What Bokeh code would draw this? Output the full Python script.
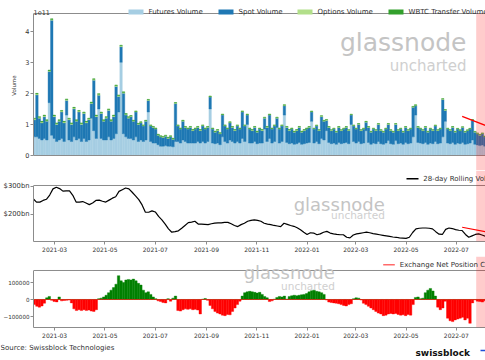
import pandas as pd
from bokeh.plotting import figure
from bokeh.models import (ColumnDataSource, Range1d, FixedTicker, CustomJSTickFormatter,
                          DatetimeTickFormatter, Label, BoxAnnotation, Span)
from bokeh.layouts import column
from bokeh.embed import file_html
from bokeh.resources import INLINE

# ---------------- data ----------------
bin_start = "2021-02-03"          # 3-day bins
futures_vol = [  # 1e9 USD
    60, 60, 55, 50, 55, 50, 170, 65, 55, 45,
    50, 55, 45, 130, 50, 45, 60, 50, 55, 45,
    55, 45, 50, 120, 80, 55, 150, 55, 50, 50,
    60, 50, 55, 70, 140, 300, 70, 60, 55, 55,
    50, 60, 45, 50, 45, 50, 140, 45, 40, 40,
    35, 30, 30, 32, 30, 30, 28, 45, 45, 40,
    50, 45, 40, 40, 40, 40, 45, 40, 45, 40,
    45, 150, 40, 38, 40, 35, 60, 45, 40, 50,
    45, 40, 45, 40, 55, 45, 100, 40, 40, 45,
    38, 40, 40, 85, 45, 55, 40, 45, 90, 40,
    45, 130, 42, 38, 40, 36, 38, 42, 36, 38,
    40, 42, 110, 40, 45, 38, 55, 50, 80, 42,
    38, 40, 36, 42, 38, 40, 42, 38, 100, 45,
    40, 45, 38, 40, 80, 42, 36, 40, 38, 45,
    38, 36, 40, 48, 38, 36, 48, 38, 40, 36,
    42, 38, 40, 60, 130, 42, 40, 38, 42, 36,
    40, 38, 45, 38, 40, 60, 110, 40, 38, 42,
    36, 40, 38, 42, 36, 38, 40, 50, 36, 34,
    32, 34, 30, 32]
spot_vol = [  # 1e9 USD
    55, 135, 65, 55, 70, 60, 100, 370, 70, 55,
    60, 85, 60, 47, 65, 55, 90, 60, 85, 55,
    80, 60, 65, 47, 162, 70, 44, 80, 60, 70,
    85, 60, 70, 152, 50, 50, 130, 70, 65, 70,
    60, 80, 55, 55, 50, 60, 37, 50, 50, 45,
    30, 30, 28, 30, 25, 30, 24, 122, 50, 45,
    60, 45, 45, 50, 40, 45, 45, 40, 50, 45,
    45, 38, 45, 37, 40, 35, 70, 50, 45, 55,
    45, 40, 50, 45, 85, 50, 30, 45, 40, 45,
    37, 45, 40, 35, 45, 75, 45, 50, 30, 45,
    50, 30, 48, 42, 45, 39, 42, 48, 39, 42,
    45, 48, 30, 45, 50, 42, 70, 60, 33, 48,
    42, 45, 39, 48, 42, 45, 48, 42, 30, 50,
    45, 55, 42, 45, 27, 48, 39, 45, 42, 55,
    42, 39, 45, 52, 42, 39, 52, 42, 45, 39,
    48, 42, 45, 95, 30, 48, 45, 42, 48, 39,
    45, 42, 50, 42, 45, 120, 35, 45, 42, 48,
    39, 45, 42, 48, 39, 42, 45, 63, 39, 36,
    33, 36, 30, 33]
months = ["2021-02", "2021-03", "2021-04", "2021-05", "2021-06", "2021-07", "2021-08",
          "2021-09", "2021-10", "2021-11", "2021-12", "2022-01", "2022-02", "2022-03",
          "2022-04", "2022-05", "2022-06", "2022-07", "2022-08"]
options_month = [3, 3, 3, 3, 2, 2, 2, 2, 2, 2, 2, 2, 2, 2, 2, 2, 2, 1.5, 1.5]
wbtc_month = [2, 2, 2, 2, 1.5, 1.5, 1.5, 1.5, 1.5, 1.5, 1.5, 1, 1, 1, 1, 1, 1, 1, 1]
volume_labels = ["Futures Volume", "Spot Volume", "Options Volume", "WBTC Transfer Volume"]

rolling_start = "2021-02-03"      # 4-day steps, $bn
rolling_vol_bn = [
    255, 243, 243, 249, 253, 268, 290, 296, 291, 282, 283, 283, 267, 243, 243, 245,
    240, 234, 240, 249, 250, 246, 243, 250, 257, 262, 281, 287, 293, 290, 278, 265,
    252, 233, 207, 207, 212, 208, 192, 180, 165, 148, 136, 138, 141, 150, 160, 170,
    172, 175, 165, 165, 164, 163, 166, 168, 169, 169, 171, 171, 166, 160, 156, 163,
    168, 175, 178, 180, 178, 175, 168, 165, 163, 160, 158, 156, 168, 164, 160, 157,
    152, 145, 136, 128, 134, 133, 127, 130, 136, 139, 133, 130, 128, 127, 127, 118,
    116, 126, 130, 132, 134, 136, 134, 131, 129, 127, 125, 123, 121, 119, 118, 116,
    115, 114, 118, 135, 148, 150, 151, 151, 150, 148, 138, 129, 128, 146, 151, 149,
    145, 143, 142, 128, 118, 123, 128, 130, 126, 122, 120]

netpos_start = "2021-02-03"       # 3-day bins, thousands BTC
netpos_k = [
    -30, -40, -45, -38, -22, 10, 18, -5, -12, -14,
    15, -8, -6, -5, -3, -20, -55, -65, -60, -65,
    -60, -65, -62, -68, -70, -60, 5, 8, 15, 25,
    40, 55, 70, 90, 140, 110, 100, 115, 118, 115,
    120, 110, 95, 85, 55, 40, 45, 30, 15, 5,
    -8, -12, -18, -20, 5, -10, 8, 20, -65, -68,
    -60, -55, -58, -55, -60, -58, -62, -85, 2, 6,
    -5, -35, -55, -70, -80, -85, -92, -95, -88, -90,
    -70, -50, -30, -10, 20, 40, 45, 48, 45, 42,
    38, 42, 30, 18, 10, -12, -8, 2, 12, 18,
    15, 20, 2, 18, 22, 25, 22, 25, 28, 30,
    35, 45, 52, 55, 48, 45, 40, 30, -3, -15,
    -18, -20, -22, -25, -30, -35, -38, -30, -25, 5,
    10, 8, -3, -22, -30, -40, -50, -60, -70, -80,
    -85, -95, -92, -85, -82, -85, -82, -88, -92, -90,
    -95, -88, -92, -30, 12, 15, 5, 8, 40, 55,
    65, 50, 20, -45, -60, -50, -10, -110, -125, -130,
    -120, -115, -110, -105, -120, -110, -140, -20, -2, -10,
    -12, -15, -8, -5]

trend_dates = ["2022-07-08", "2022-08-06"]
trend_volume = [126, 96]          # 1e9 USD
trend_rolling_bn = [153.6, 137.5]
highlight_start = "2022-07-25"
tick_labels = ["2021-03", "2021-05", "2021-07", "2021-09", "2021-11",
               "2022-01", "2022-03", "2022-05", "2022-07"]

# ---------------- styling helpers ----------------
FONT = "DejaVu Sans"
SPINE = "#8c8c8c"
TXT = "#333333"
DAY = 86400000
W = 485
FL = 32  # page x of frame left

x_range = Range1d(start=pd.Timestamp("2021-02-03 08:40"), end=pd.Timestamp("2022-08-05 07:00"))
xticks = [pd.Timestamp(t + "-01").value / 1e6 for t in tick_labels]
hl_ms = pd.Timestamp(highlight_start).value / 1e6


def make_fig(h, bottom, yr, bounds):
    """Frame reaches the canvas top; the visible panel box is drawn with spans/bounded axis."""
    p = figure(width=W, height=h, x_axis_type="datetime", x_range=x_range,
               y_range=Range1d(*yr),
               output_backend="svg", toolbar_location=None,
               min_border_left=FL, min_border_right=0,
               min_border_top=0, min_border_bottom=bottom,
               background_fill_color="white", border_fill_color="white")
    p.outline_line_color = None
    p.grid.visible = False
    for ax in (p.xaxis[0], p.yaxis[0]):
        ax.axis_line_color = SPINE
        ax.major_tick_line_color = SPINE
        ax.major_tick_out = 3
        ax.major_tick_in = 0
        ax.minor_tick_line_color = None
        ax.major_label_text_font = FONT
        ax.major_label_text_color = TXT
        ax.major_label_standoff = 1
    p.yaxis.bounds = bounds
    p.xaxis.ticker = FixedTicker(ticks=xticks)
    p.xaxis.formatter = DatetimeTickFormatter(days="%Y-%m", months="%Y-%m", years="%Y-%m")
    p.xaxis.major_label_text_font_size = "6px"
    p.xaxis.major_label_standoff = 2
    p.add_layout(Span(location=bounds[1], dimension="width", line_color=SPINE, line_width=1))
    return p


def label(p, x, y, text, size, color=TXT, align="left", baseline="middle", style="normal"):
    p.add_layout(Label(x=x, y=y, x_units="screen", y_units="screen", text=text,
                       text_align=align, text_baseline=baseline, text_font=FONT,
                       text_font_size=f"{size}px", text_color=color, text_font_style=style))


def box(p, left, right, bottom, top, color, alpha=1.0):
    p.add_layout(BoxAnnotation(left=left, right=right, bottom=bottom, top=top,
                               left_units="screen", right_units="screen",
                               bottom_units="screen", top_units="screen",
                               fill_color=color, fill_alpha=alpha, line_color=None))


def watermark(p, x, y1, y2, s1, s2):
    label(p, x, y1, "glassnode", s1, "#c4c4c4", "right", "alphabetic")
    label(p, x, y2, "uncharted", s2, "#cfcfcf", "right", "alphabetic")


# ---------------- top: volumes (canvas y 0..170, panel box 13..155) ----------------
B1 = 170
p1 = make_fig(170, 0, (-4.827e10, 4.9884e11), (0, 4.57e11))
p1.xaxis.visible = False
p1.add_layout(Span(location=0, dimension="width", line_color=SPINE, line_width=1))
p1.yaxis.ticker = FixedTicker(ticks=[0, 1e11, 2e11, 3e11, 4e11])
p1.yaxis.formatter = CustomJSTickFormatter(code="return (tick/1e11).toFixed(0);")
p1.yaxis.major_label_text_font_size = "6.5px"
p1.yaxis.axis_label = "Volume"
p1.yaxis.axis_label_text_font = FONT
p1.yaxis.axis_label_text_font_size = "5.5px"
p1.yaxis.axis_label_text_font_style = "normal"
p1.yaxis.axis_label_text_color = TXT
p1.yaxis.axis_label_standoff = 5

n = len(futures_vol)
bins = pd.date_range(bin_start, periods=n, freq="3D") + pd.Timedelta(hours=36)
midx = [months.index(d.strftime("%Y-%m")) for d in bins]
src = ColumnDataSource(dict(
    x=bins,
    fut=[v * 1e9 for v in futures_vol],
    spot=[v * 1e9 for v in spot_vol],
    opt=[options_month[m] * 1e9 for m in midx],
    wbtc=[wbtc_month[m] * 1e9 for m in midx],
))
cols = ["#a6cee3", "#1f78b4", "#b2df8a", "#33a02c"]
p1.vbar_stack(["fut", "spot", "opt", "wbtc"], x="x", width=3 * DAY, source=src,
              fill_color=cols, line_color=cols, line_width=0.4)
p1.line(x=pd.to_datetime(trend_dates), y=[v * 1e9 for v in trend_volume],
        line_color="red", line_width=1.2)
p1.add_layout(BoxAnnotation(left=hl_ms, top=4.57e11,
                            fill_color="red", fill_alpha=0.2, line_color=None))
watermark(p1, 465 - FL, B1 - 41.7, B1 - 65, 25, 15)
label(p1, 0, B1 - 11.7, "1e11", 6.5, baseline="alphabetic")
for px, c, t in zip([127, 217, 296, 387], cols, volume_labels):
    box(p1, px - FL, px + 15 - FL, B1 - 14, B1 - 9, c)
    label(p1, px + 20 - FL, B1 - 11.2, t, 7)

# ---------------- middle: rolling volume (canvas 170..256, box 185..241) ----------------
B2 = 241
p2 = make_fig(86, 15, (103, 355.3), (103, 302))
p2.yaxis.ticker = FixedTicker(ticks=[200, 300])
p2.yaxis.formatter = CustomJSTickFormatter(code="return '$' + tick.toFixed(0) + 'bn';")
p2.yaxis.major_label_text_font_size = "6.8px"
rdates = pd.date_range(rolling_start, periods=len(rolling_vol_bn), freq="4D")
p2.line(x=rdates, y=rolling_vol_bn, line_color="black", line_width=1.2)
p2.line(x=pd.to_datetime(trend_dates), y=trend_rolling_bn, line_color="red", line_width=1.2)
p2.add_layout(BoxAnnotation(left=hl_ms, fill_color="red", fill_alpha=0.2, line_color=None))
watermark(p2, 383.3 - FL, B2 - 204.3, B2 - 214.3, 18, 10.5)
box(p2, 405 - FL, 417 - FL, B2 - 179, B2 - 177.6, "black")
label(p2, 421.7 - FL, B2 - 178.3, "28-day Rolling Volume", 7)

# ---------------- bottom: exchange net position (canvas 256..342, box 270..327) ----------------
B3 = 327
p3 = make_fig(86, 15, (-164706, 252941), (-164706, 170600))
p3.yaxis.ticker = FixedTicker(ticks=[-100000, 0, 100000])
p3.yaxis.formatter = CustomJSTickFormatter(
    code="return tick < 0 ? '\\u2212' + Math.abs(tick).toFixed(0) : tick.toFixed(0);")
p3.yaxis.major_label_text_font_size = "5.6px"
ndates = pd.date_range(netpos_start, periods=len(netpos_k), freq="3D") + pd.Timedelta(hours=36)
nsrc = ColumnDataSource(dict(
    x=ndates,
    pos=[v * 1000 if v > 0 else 0 for v in netpos_k],
    neg=[v * 1000 if v < 0 else 0 for v in netpos_k],
))
p3.vbar(x="x", top="pos", bottom=0, width=3 * DAY, source=nsrc,
        fill_color="#008000", line_color="#008000", line_width=0.4)
p3.vbar(x="x", top=0, bottom="neg", width=3 * DAY, source=nsrc,
        fill_color="#ff0000", line_color="#ff0000", line_width=0.4)
p3.add_layout(BoxAnnotation(left=hl_ms, fill_color="red", fill_alpha=0.2, line_color=None))
watermark(p3, 333.3 - FL, B3 - 272.3, B3 - 285.7, 18, 10.5)
box(p3, 381.7 - FL, 393.3 - FL, B3 - 265, B3 - 263.6, "#ff6a6a")
label(p3, 398.3 - FL, B3 - 264.3, "Exchange Net Position Change", 7)

# ---------------- footer (canvas 342..360) ----------------
foot = figure(width=W, height=18, x_range=Range1d(0, 1), y_range=Range1d(0, 1),
              x_axis_location=None, y_axis_location=None,
              output_backend="svg", toolbar_location=None,
              min_border_left=0, min_border_right=0, min_border_top=0, min_border_bottom=0,
              background_fill_color="white", border_fill_color="white")
try:
    foot.frame_align = False
except Exception:
    pass
foot.outline_line_color = None
foot.grid.visible = False
label(foot, 0, 360 - 347.7, "Source: Swissblock Technologies", 7)
label(foot, 415, 360 - 352.5, "swissblock", 9, "#111111", baseline="alphabetic", style="bold")
box(foot, 480, 485, 360 - 350.8, 360 - 349.2, "#1f4fd8")

layout = column(p1, p2, p3, foot)
open("out.html", "w").write(file_html(layout, INLINE))
